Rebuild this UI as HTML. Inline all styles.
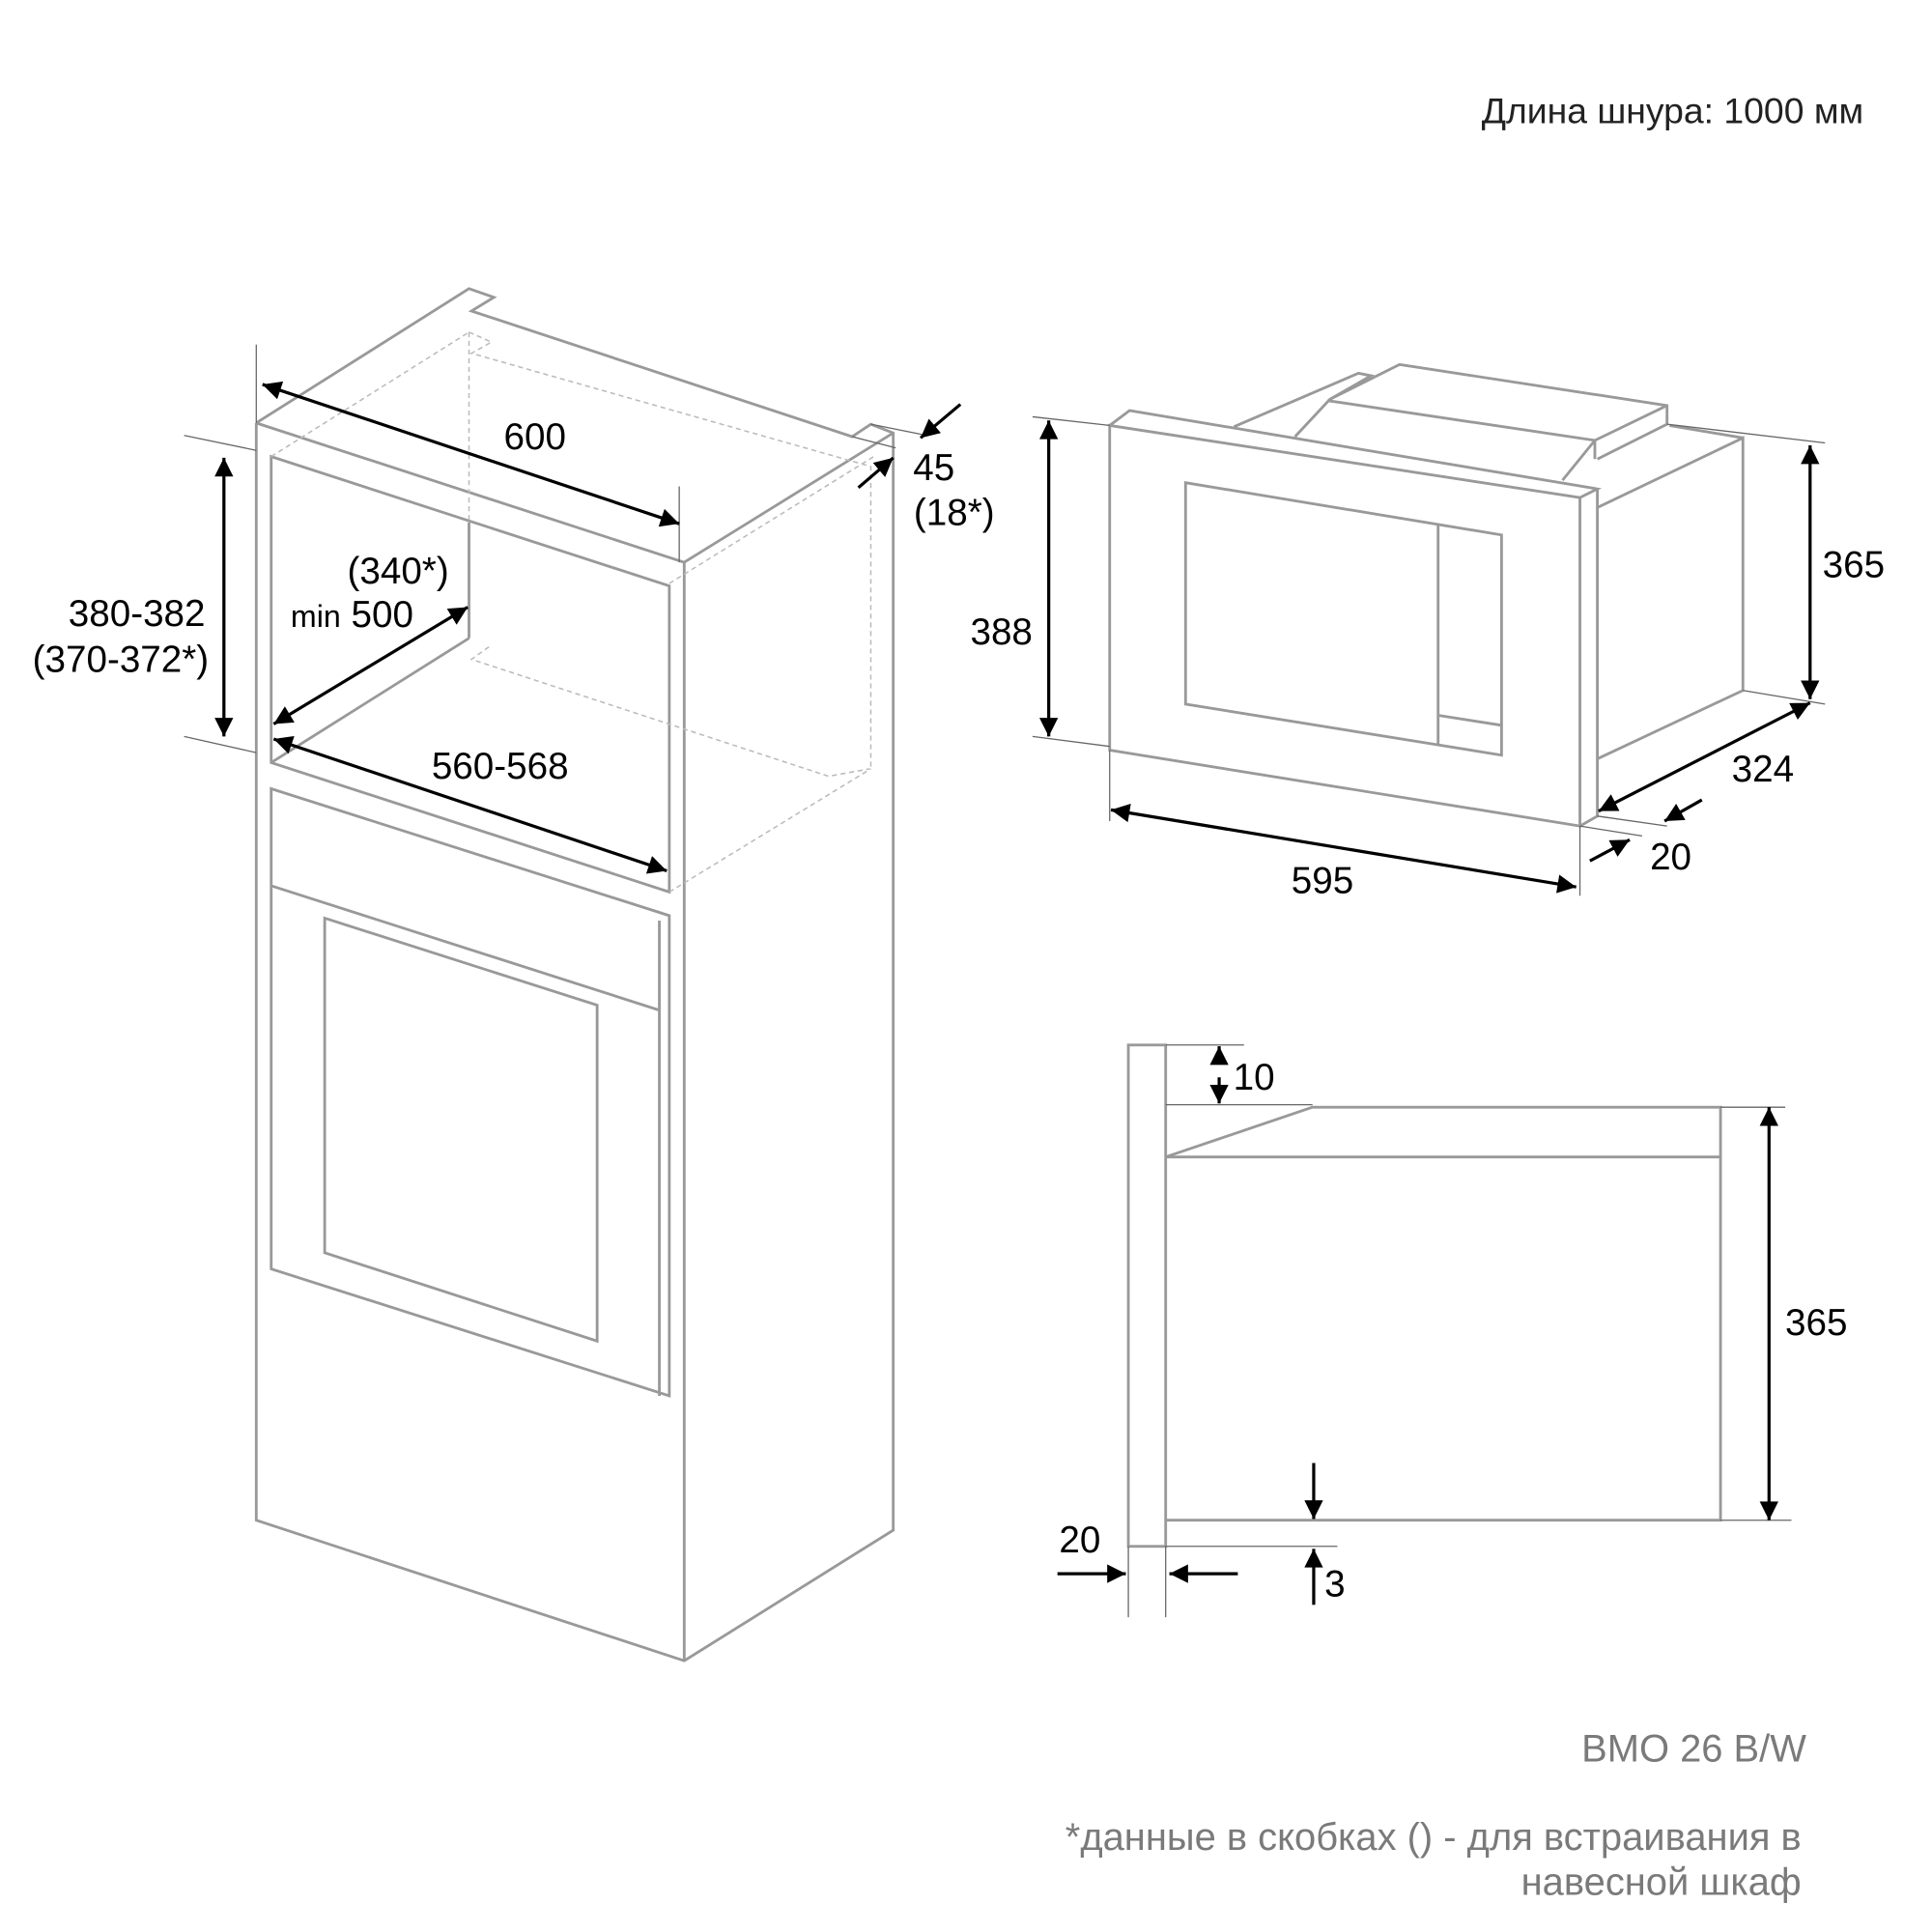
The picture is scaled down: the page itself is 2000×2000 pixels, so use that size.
<!DOCTYPE html>
<html><head><meta charset="utf-8"><style>
html,body{margin:0;padding:0;background:#fff}
svg{display:block}
text{font-family:"Liberation Sans",Arial,sans-serif}
</style></head><body>
<svg width="2000" height="2000" viewBox="0 0 1553 1553" xmlns="http://www.w3.org/2000/svg">
<defs>
<marker id="a" viewBox="0 0 10 10" refX="10" refY="5" markerWidth="7" markerHeight="6" orient="auto-start-reverse" markerUnits="strokeWidth"><path d="M0,0L10,5L0,10z" fill="#000"/></marker>
</defs>
<g fill="none" stroke="#999" stroke-width="2.2" stroke-linejoin="miter">
<polyline points="206,340 377,232 397,239 379,250 685,351 700,341 718,348 718,1230 550,1335 206,1222 206,340"/>
<polyline points="206,340 550,452 550,1335"/>
<line x1="550" y1="452" x2="718" y2="348"/>
<polygon points="218,367 538,471 538,717 218,613"/>
<line x1="377" y1="420" x2="377" y2="513"/>
<line x1="218" y1="613" x2="377" y2="513"/>
<polygon points="218,634 538,736 538,1122 218,1020"/>
<line x1="218" y1="712" x2="530" y2="812"/>
<line x1="530" y1="740" x2="530" y2="1122"/>
<polygon points="261,738 480,808 480,1078 261,1007"/>
<polygon points="892,342 1270,400 1270,664 892,603"/>
<polyline points="892,342 908,330 1284,393 1270,400"/>
<polyline points="1284,393 1284,656 1270,664"/>
<polyline points="1284,408 1401,352 1401,555 1284,610"/>
<line x1="1342" y1="342" x2="1401" y2="352"/>
<polyline points="992,343 1092,300 1102,302 1069,321 1041,351"/>
<polyline points="1069,321 1125,293 1340,326 1340,341 1284,369"/>
<polyline points="1067,322 1282,354 1256,386"/>
<line x1="1282" y1="354" x2="1282" y2="369"/>
<line x1="1340" y1="326" x2="1282" y2="354"/>
<polygon points="953,388 1207,430 1207,607 953,566"/>
<line x1="1156" y1="422" x2="1156" y2="598"/>
<line x1="1156" y1="575" x2="1207" y2="583"/>
<rect x="907" y="840" width="30" height="403"/>
<polyline points="937,930 1055,890 1383,890 1383,1222 937,1222"/>
<line x1="937" y1="930" x2="1383" y2="930"/>
</g>
<g fill="none" stroke="#bbb" stroke-width="1.2" stroke-dasharray="4,3">
<line x1="218" y1="367" x2="377" y2="267"/>
<line x1="377" y1="267" x2="377" y2="420"/>
<polyline points="377,267 395,275 379,284 700,375 700,618"/>
<polyline points="393,520 379,530 666,624 699,618"/>
<line x1="538" y1="469" x2="704" y2="366"/>
<line x1="538" y1="717" x2="700" y2="618"/>
</g>
<g stroke="#666" stroke-width="1">
<line x1="206" y1="277" x2="206" y2="340"/>
<line x1="546" y1="391" x2="546" y2="452"/>
<line x1="148" y1="350" x2="206" y2="362"/>
<line x1="148" y1="592" x2="206" y2="605"/>
<line x1="700" y1="341" x2="745" y2="350"/>
<line x1="685" y1="351" x2="720" y2="360"/>
<line x1="830" y1="335" x2="892" y2="342"/>
<line x1="830" y1="592" x2="892" y2="600"/>
<line x1="1340" y1="341" x2="1467" y2="356"/>
<line x1="1401" y1="555" x2="1467" y2="566"/>
<line x1="892" y1="603" x2="892" y2="660"/>
<line x1="1270" y1="664" x2="1270" y2="720"/>
<line x1="1284" y1="656" x2="1340" y2="664"/>
<line x1="1270" y1="664" x2="1320" y2="672"/>
<line x1="937" y1="840" x2="1000" y2="840"/>
<line x1="937" y1="888" x2="1055" y2="888"/>
<line x1="1383" y1="890" x2="1435" y2="890"/>
<line x1="1383" y1="1222" x2="1440" y2="1222"/>
<line x1="937" y1="1243" x2="1075" y2="1243"/>
<line x1="907" y1="1243" x2="907" y2="1300"/>
<line x1="937" y1="1243" x2="937" y2="1300"/>
</g>
<g stroke="#000" stroke-width="2.5" fill="none">
<line x1="211" y1="309" x2="546" y2="421" marker-start="url(#a)" marker-end="url(#a)"/>
<line x1="180" y1="368" x2="180" y2="592" marker-start="url(#a)" marker-end="url(#a)"/>
<line x1="376" y1="488" x2="220" y2="582" marker-start="url(#a)" marker-end="url(#a)"/>
<line x1="220" y1="594" x2="536" y2="700" marker-start="url(#a)" marker-end="url(#a)"/>
<line x1="772" y1="325" x2="740" y2="352" marker-end="url(#a)"/>
<line x1="690" y1="392" x2="718" y2="368" marker-end="url(#a)"/>
<line x1="843" y1="338" x2="843" y2="592" marker-start="url(#a)" marker-end="url(#a)"/>
<line x1="1455" y1="358" x2="1455" y2="562" marker-start="url(#a)" marker-end="url(#a)"/>
<line x1="1455" y1="565" x2="1285" y2="652" marker-start="url(#a)" marker-end="url(#a)"/>
<line x1="1368" y1="643" x2="1338" y2="660" marker-end="url(#a)"/>
<line x1="1278" y1="692" x2="1310" y2="675" marker-end="url(#a)"/>
<line x1="893" y1="651" x2="1267" y2="713" marker-start="url(#a)" marker-end="url(#a)"/>
<line x1="1422" y1="890" x2="1422" y2="1222" marker-start="url(#a)" marker-end="url(#a)"/>
<line x1="980" y1="855" x2="980" y2="841" marker-end="url(#a)"/>
<line x1="980" y1="866" x2="980" y2="887" marker-end="url(#a)"/>
<line x1="1056" y1="1176" x2="1056" y2="1221" marker-end="url(#a)"/>
<line x1="1056" y1="1290" x2="1056" y2="1245" marker-end="url(#a)"/>
<line x1="850" y1="1265" x2="905" y2="1265" marker-end="url(#a)"/>
<line x1="995" y1="1265" x2="940" y2="1265" marker-end="url(#a)"/>
</g>
<g fill="#000" font-size="30" text-anchor="middle">
<text x="430" y="361">600</text>
<text x="734" y="386" text-anchor="start">45</text>
<text x="767" y="422">(18*)</text>
<text x="110" y="503">380-382</text>
<text x="97" y="540">(370-372*)</text>
<text x="320" y="469">(340*)</text>
<text x="283" y="504"><tspan font-size="25">min</tspan> 500</text>
<text x="402" y="626">560-568</text>
<text x="805" y="518">388</text>
<text x="1490" y="464">365</text>
<text x="1417" y="628">324</text>
<text x="1343" y="699">20</text>
<text x="1063" y="718">595</text>
<text x="1008" y="876">10</text>
<text x="1460" y="1073">365</text>
<text x="868" y="1248">20</text>
<text x="1073" y="1283">3</text>
<text x="1498" y="99" text-anchor="end" font-size="29" fill="#222">Длина шнура: 1000 мм</text>
</g>
<g fill="#7a7a7a" text-anchor="end">
<text x="1452" y="1416" font-size="31">BMO 26 B/W</text>
<text x="1448" y="1487" font-size="31">*данные в скобках () - для встраивания в</text>
<text x="1448" y="1523" font-size="31">навесной шкаф</text>
</g>
</svg>
</body></html>
